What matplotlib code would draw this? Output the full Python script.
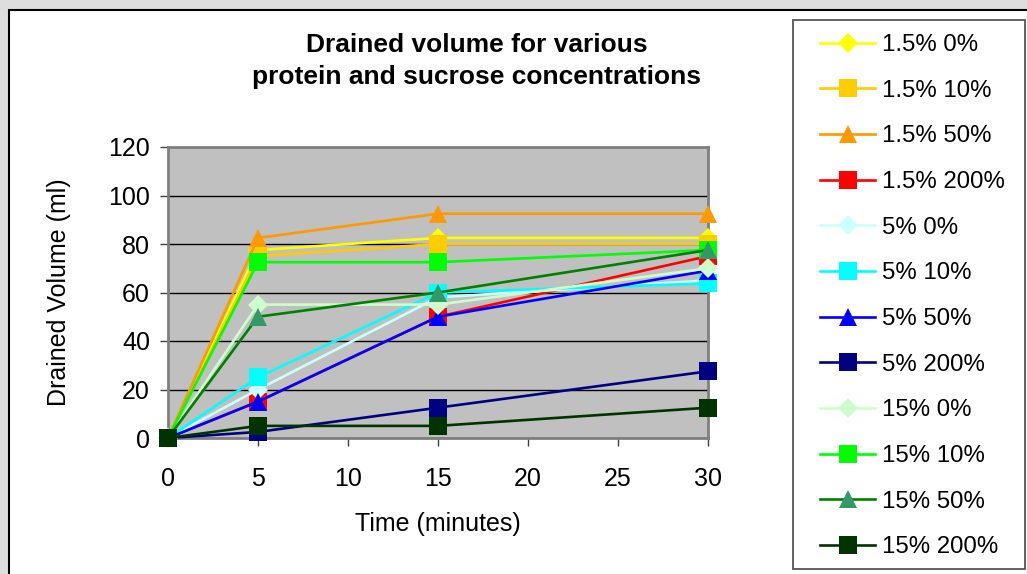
"""Drained volume vs time for protein/sucrose mixes (Excel-style line chart)."""

import matplotlib

matplotlib.use("Agg")
import matplotlib.pyplot as plt
from matplotlib.patches import Rectangle

plt.rcParams["font.family"] = ["Liberation Sans", "DejaVu Sans"]

# data
TIME_MIN = [0, 5, 15, 30]
SERIES_LABELS = [
    "1.5% 0%", "1.5% 10%", "1.5% 50%", "1.5% 200%",
    "5% 0%", "5% 10%", "5% 50%", "5% 200%",
    "15% 0%", "15% 10%", "15% 50%", "15% 200%",
]
vol_15_0 = [0, 77.5, 82.5, 82.5]
vol_15_10 = [0, 75, 80, 80]
vol_15_50 = [0, 82.5, 92.5, 92.5]
vol_15_200 = [0, 15, 50, 75]
vol_5_0 = [0, 20, 58, 65]
vol_5_10 = [0, 25, 60, 63.75]
vol_5_50 = [0, 15, 50, 69]
vol_5_200 = [0, 2.5, 12.5, 27.5]
vol_p15_0 = [0, 55, 55, 70]
vol_p15_10 = [0, 72.5, 72.5, 77.5]
vol_p15_50 = [0, 50, 60, 77.5]
vol_p15_200 = [0, 5, 5, 12.5]
SERIES_VALUES = [
    vol_15_0, vol_15_10, vol_15_50, vol_15_200,
    vol_5_0, vol_5_10, vol_5_50, vol_5_200,
    vol_p15_0, vol_p15_10, vol_p15_50, vol_p15_200,
]

# (line colour, marker colour, marker)
STYLES = [
    ("#FFFF00", "#FFFF00", "D"),
    ("#FFCC00", "#FFCC00", "s"),
    ("#FF9900", "#FF9900", "^"),
    ("#FF0000", "#FF0000", "s"),
    ("#CCFFFF", "#CCFFFF", "D"),
    ("#00FFFF", "#00FFFF", "s"),
    ("#0000FF", "#0000FF", "^"),
    ("#000080", "#000080", "s"),
    ("#CCFFCC", "#CCFFCC", "D"),
    ("#00FF00", "#00FF00", "s"),
    ("#008000", "#339966", "^"),
    ("#003300", "#003300", "s"),
]
MARKER_SIZES = {"s": 13, "^": 13.5, "D": 10.5}

W, H = 1027, 574
fig = plt.figure(figsize=(W / 100, H / 100), dpi=100, facecolor="#DEDEDE")

# white chart area, clipped by the screenshot on the right and bottom
fig.patches.append(
    Rectangle((9 / W, -0.2), 1.2, 1.2 - 10 / H, transform=fig.transFigure,
              facecolor="white", edgecolor="black", linewidth=1.5, zorder=-5)
)
# legend box, drawn separately so the entries can sit inside with Excel-like padding
fig.patches.append(
    Rectangle((793 / W, 1 - 569 / H), 232 / W, 549 / H, transform=fig.transFigure,
              facecolor="white", edgecolor="#555555", linewidth=1.3, zorder=-4)
)

ax = fig.add_axes([168 / W, (H - 438) / H, 540 / W, 291 / H])
ax.set_facecolor("#C0C0C0")

for values, label, (lcol, mcol, mk) in zip(SERIES_VALUES, SERIES_LABELS, STYLES):
    ax.plot(TIME_MIN, values, color=lcol, linewidth=1.9, marker=mk,
            markersize=MARKER_SIZES[mk], markerfacecolor=mcol,
            markeredgecolor=mcol, markeredgewidth=0, label=label,
            clip_on=False, zorder=3)

ax.set_xlim(0, 30)
ax.set_ylim(0, 120)
ax.set_xticks(range(0, 31, 5))
ax.set_yticks(range(0, 121, 20))
ax.yaxis.grid(True, color="black", linewidth=1.0)
ax.set_axisbelow(True)
for side in ax.spines.values():
    side.set_color("#808080")
    side.set_linewidth(2)
ax.tick_params(axis="both", direction="out", length=6, width=1,
               color="#404040", labelsize=18)
ax.tick_params(axis="x", pad=15)
ax.tick_params(axis="y", pad=7)

ax.set_xlabel("Time (minutes)", fontsize=18, labelpad=15)
ax.set_ylabel("Drained Volume (ml)", fontsize=18, labelpad=27)

fig.text(477 / W, 1 - 61 / H, "Drained volume for various\nprotein and sucrose concentrations",
         ha="center", va="center", fontsize=19, fontweight="bold", linespacing=1.4)

handles, labels = ax.get_legend_handles_labels()
leg = fig.legend(handles, labels, loc="upper left",
                 bbox_to_anchor=(808 / W, 1 - 22 / H), fontsize=17.3,
                 labelspacing=0.985, handlelength=2.3, handletextpad=0.3,
                 borderpad=0.5, borderaxespad=0, frameon=False)

fig.savefig("out.png", dpi=100, facecolor=fig.get_facecolor())
